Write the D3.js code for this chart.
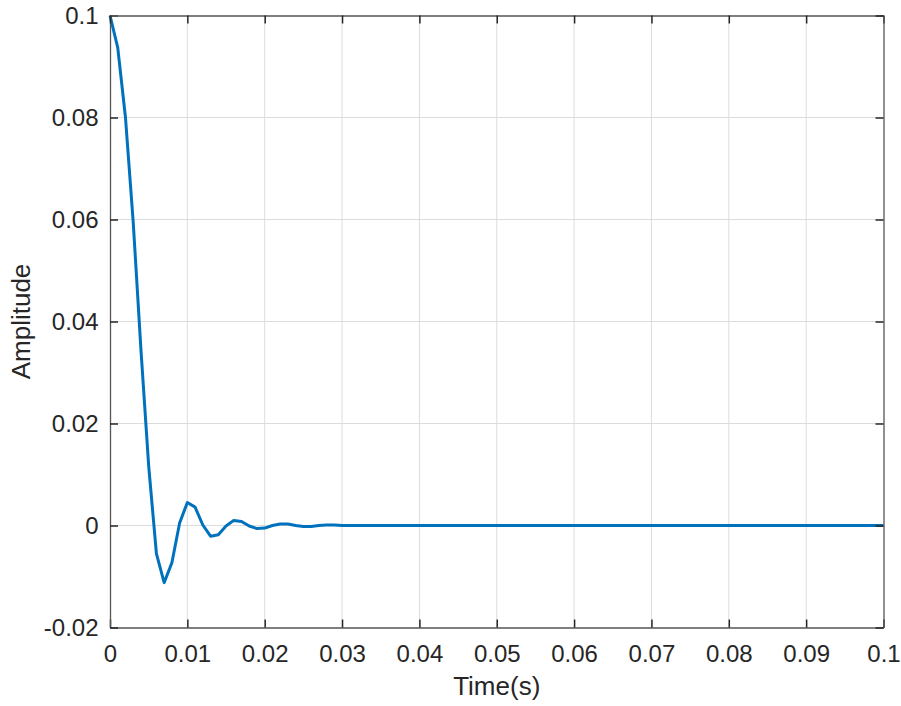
<!DOCTYPE html>
<html>
<head>
<meta charset="utf-8">
<title>Amplitude vs Time</title>
<script src="https://cdn.jsdelivr.net/npm/d3@7"></script>
<style>
  body { margin: 0; padding: 0; background: #fff; }
  text { font-family: "Liberation Sans", Arial, sans-serif; }
</style>
</head>
<body>
<div id="chart"></div>
<script>
// data (sample step 0.001 s)
var timeValues = d3.range(0, 101).map(function(i) { return i / 1000; });
var amplitude = [
  0.1, 0.0937, 0.080, 0.0595, 0.0345, 0.0117, -0.0055, -0.0112, -0.0073, 0.0005,
  0.0045, 0.0036, 0.0001, -0.0021, -0.0018, -0.0001, 0.0010, 0.0008, -0.0001, -0.0006,
  -0.0005, 0.0000, 0.0003, 0.0003, 0.0000, -0.0002, -0.0002, 0.0000, 0.0001, 0.0001,
  0, 0, 0, 0, 0, 0, 0, 0, 0, 0,
  0, 0, 0, 0, 0, 0, 0, 0, 0, 0,
  0, 0, 0, 0, 0, 0, 0, 0, 0, 0,
  0, 0, 0, 0, 0, 0, 0, 0, 0, 0,
  0, 0, 0, 0, 0, 0, 0, 0, 0, 0,
  0, 0, 0, 0, 0, 0, 0, 0, 0, 0,
  0, 0, 0, 0, 0, 0, 0, 0, 0, 0,
  0
];
var xTicks = [0, 0.01, 0.02, 0.03, 0.04, 0.05, 0.06, 0.07, 0.08, 0.09, 0.1];
var yTicks = [-0.02, 0, 0.02, 0.04, 0.06, 0.08, 0.1];

var W = 901, H = 706;
var margin = {top: 15.5, right: 17.5, bottom: 78.5, left: 110};
var width = W - margin.left - margin.right,
    height = H - margin.top - margin.bottom;

var svg = d3.select("#chart").append("svg")
    .attr("width", W)
    .attr("height", H)
  .append("g")
    .attr("transform", "translate(" + margin.left + "," + margin.top + ")");

var x = d3.scaleLinear().domain([0, 0.1]).range([0, width]);
var y = d3.scaleLinear().domain([-0.02, 0.1]).range([height, 0]);

var fmt = function(d) { return d === 0 ? "0" : String(+d.toFixed(2)); };

// grid
svg.append("g").selectAll("line").data(xTicks.slice(1, -1)).enter().append("line")
  .attr("x1", function(d) { return x(d); }).attr("x2", function(d) { return x(d); })
  .attr("y1", 0).attr("y2", height)
  .attr("stroke", "#dcdcdc").attr("stroke-width", 1);
svg.append("g").selectAll("line").data(yTicks.slice(1, -1)).enter().append("line")
  .attr("y1", function(d) { return y(d); }).attr("y2", function(d) { return y(d); })
  .attr("x1", 0).attr("x2", width)
  .attr("stroke", "#dcdcdc").attr("stroke-width", 1);

// line
var line = d3.line()
  .x(function(d, i) { return x(timeValues[i]); })
  .y(function(d) { return y(d); });
svg.append("path")
  .datum(amplitude)
  .attr("fill", "none")
  .attr("stroke", "#0072BD")
  .attr("stroke-width", 3)
  .attr("stroke-linejoin", "round")
  .attr("d", line);

// axes (MATLAB style: ticks inside, on all sides)
function styleAxis(g) {
  g.select(".domain").attr("stroke", "#555").attr("stroke-width", 1.3);
  g.selectAll(".tick line").attr("stroke", "#262626").attr("stroke-width", 1.5);
  g.selectAll(".tick text").attr("fill", "#262626").style("font-size", "24px")
    .style("font-family", "'Liberation Sans', Arial, sans-serif");
}

svg.append("g")
  .attr("transform", "translate(0," + height + ")")
  .call(d3.axisBottom(x).tickValues(xTicks).tickFormat(fmt).tickSizeInner(-8).tickSizeOuter(0).tickPadding(17.5))
  .call(styleAxis);
svg.append("g")
  .call(d3.axisLeft(y).tickValues(yTicks).tickFormat(fmt).tickSizeInner(-8).tickSizeOuter(0).tickPadding(11.5))
  .call(styleAxis);
svg.append("g")
  .call(d3.axisTop(x).tickValues(xTicks).tickFormat("").tickSizeInner(-8).tickSizeOuter(0))
  .call(styleAxis);
svg.append("g")
  .attr("transform", "translate(" + width + ",0)")
  .call(d3.axisRight(y).tickValues(yTicks).tickFormat("").tickSizeInner(-8).tickSizeOuter(0))
  .call(styleAxis);

// labels
svg.append("text")
  .attr("x", width / 2)
  .attr("y", height + 67.5)
  .attr("text-anchor", "middle")
  .attr("fill", "#262626")
  .style("font-size", "26px")
  .text("Time(s)");

svg.append("text")
  .attr("transform", "translate(" + (-80) + "," + (height / 2) + ") rotate(-90)")
  .attr("text-anchor", "middle")
  .attr("fill", "#262626")
  .style("font-size", "26px")
  .text("Amplitude");
</script>
</body>
</html>
